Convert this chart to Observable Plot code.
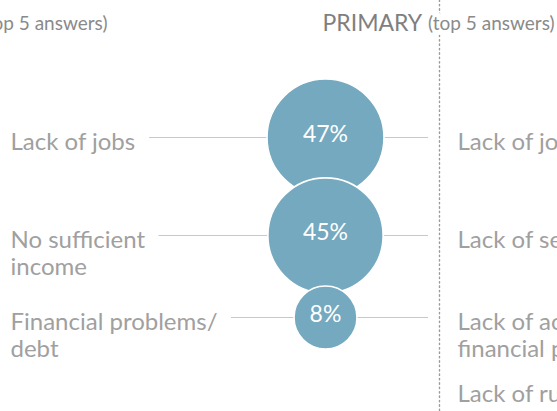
<!DOCTYPE html>
<html><head><meta charset="utf-8">
<script src="https://cdn.jsdelivr.net/npm/d3@7"></script>
<script src="https://cdn.jsdelivr.net/npm/@observablehq/plot@0.6"></script>
<style>html,body{margin:0;padding:0;background:#fff;overflow:hidden} svg{display:block}</style>
</head><body><div id="chart"></div>
<script>
// ---- data ----
const answers = ["Lack of jobs", "No sufficient\nincome", "Financial problems/\ndebt"];
const shares = [47, 45, 8];
const primaryAnswers = ["Lack of jobs", "Lack of security", "Lack of access to\nfinancial products", "Lack of rural infrastructure"];
const panelTitle = "PRIMARY";
const panelSubtitle = "(top 5 answers)";

// ---- layout ----
const W = 557, H = 411;
const FONT = "Lato, 'Open Sans', sans-serif";
const LABEL_SIZE = 24, PCT_SIZE = 23, TITLE_SIZE = 23, SUB_SIZE = 19;
const labelX = 10, circleX = 325, leaderEnd = 428, dividerX = 439, rightLabelX = 457;
const titleX = 322, leftSubEnd = 107;
const rowPositions = [137, 235, 317, 389];
const rowY = d => rowPositions[d.rank];

const ctx = document.createElement("canvas").getContext("2d");
function textWidth(s, size) { ctx.font = `${size}px Lato`; return ctx.measureText(s).width; }

const rows = answers.map((a, i) => ({
  answer: a, share: shares[i], rank: i,
  lineStart: labelX + textWidth(a.split("\n")[0], LABEL_SIZE) + 14
}));
const rightRows = primaryAnswers.map((a, i) => ({answer: a, rank: i}));

const subX = titleX + textWidth(panelTitle + " ", TITLE_SIZE);

const chart = Plot.plot({
  width: W, height: H,
  margin: 0,
  style: {fontFamily: FONT, background: "#fff"},
  x: {domain: [0, W], range: [0, W], axis: null},
  y: {domain: [0, H], range: [0, H], axis: null},
  r: {type: "pow", exponent: 0.35, domain: [0, d3.max(shares)], range: [0, 58.5]},
  marks: [
    Plot.ruleX([dividerX], {stroke: "#9a9a9a", strokeWidth: 1.4, strokeDasharray: "1.4,3", strokeLinecap: "round"}),
    Plot.ruleY(rows, {y: rowY, x1: "lineStart", x2: () => leaderEnd, stroke: "#c8c8c8", strokeWidth: 1}),
    Plot.dot(rows, {x: () => circleX, y: rowY, r: "share", fill: "#74a9bf", stroke: "white", strokeWidth: 1.6}),
    Plot.text(rows, {x: () => circleX, y: rowY, text: d => d.share + "%", fill: "white", fontSize: PCT_SIZE, dy: -3}),
    Plot.text(rows, {x: () => labelX, y: rowY, text: "answer", textAnchor: "start", lineAnchor: "top", dy: -7, fontSize: LABEL_SIZE, lineHeight: 1.13, fill: "#a0a0a0"}),
    Plot.text(rightRows, {x: () => rightLabelX, y: rowY, text: "answer", textAnchor: "start", lineAnchor: "top", dy: -7, fontSize: LABEL_SIZE, lineHeight: 1.13, fill: "#a0a0a0"}),
    Plot.text([panelTitle], {x: () => titleX, frameAnchor: "top", text: d => d, textAnchor: "start", lineAnchor: "top", dy: 14, fontSize: TITLE_SIZE, fill: "#7f7f7f", stroke: "white", strokeWidth: 8}),
    Plot.text([panelSubtitle], {x: () => subX, frameAnchor: "top", text: d => d, textAnchor: "start", lineAnchor: "top", dy: 16, fontSize: SUB_SIZE, fill: "#8a8a8a", stroke: "white", strokeWidth: 10}),
    Plot.text([panelSubtitle], {x: () => leftSubEnd, frameAnchor: "top", text: d => d, textAnchor: "end", lineAnchor: "top", dy: 16, fontSize: SUB_SIZE, fill: "#8a8a8a"})
  ]
});
document.getElementById("chart").append(chart);
</script>
</body></html>
